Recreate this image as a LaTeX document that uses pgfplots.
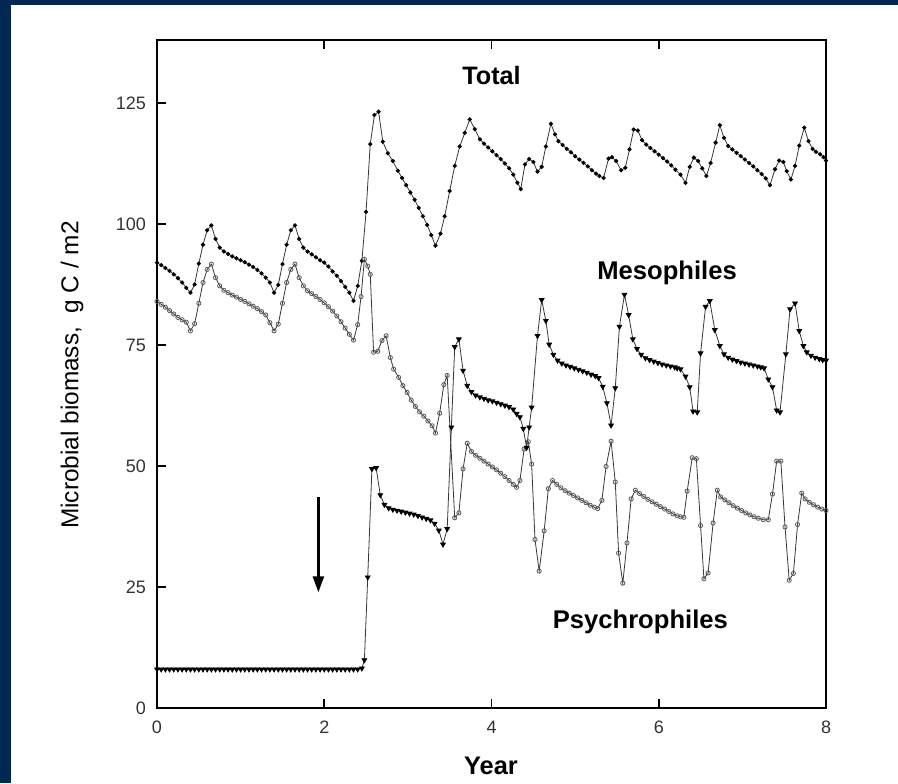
\documentclass[border=0pt]{standalone}
\usepackage{fontspec}
\setmainfont{Liberation Sans}
\usepackage{pgfplots}
\pgfplotsset{compat=1.18}
\usetikzlibrary{arrows.meta}
\definecolor{frame}{RGB}{0,40,82}
\definecolor{trace}{RGB}{55,55,55}

\begin{document}
\begin{tikzpicture}
% page frame: dark band on the left and top, white panel
\useasboundingbox (0,0) rectangle (449pt,391.5pt);
\fill[frame] (0,0) rectangle (449pt,391.5pt);
\fill[white] (5.5pt,0) rectangle (449pt,389pt);

\begin{axis}[
  at={(78.5pt,37.5pt)}, anchor=south west,
  scale only axis, width=334.5pt, height=334pt,
  xmin=0, xmax=8, ymin=0, ymax=138,
  xtick={0,2,4,6,8}, ytick={0,25,50,75,100,125},
  xtick pos=both, ytick pos=left,
  tick align=inside, major tick length=4.5pt,
  tick style={line width=0.8pt, black},
  axis line style={line width=1pt, black},
  /pgf/number format/assume math mode=true,
  tick label style={font=\fontsize{9}{10}\selectfont, text=black!80},
  yticklabel style={xshift=-2pt},
  xticklabel style={yshift=-3pt},
  clip=false,
]

% Total
\addplot[color=trace, line width=0.4pt, mark=*, mark size=0.85pt,
  mark options={fill=black, draw=black}] coordinates {
(0.00,92.0)(0.05,91.5)(0.10,90.9)(0.15,90.3)(0.20,89.6)(0.25,88.8)(0.30,87.9)(0.35,86.8)(0.40,85.8)(0.45,87.5)
(0.50,91.8)(0.55,95.7)(0.60,98.7)(0.65,99.7)(0.70,96.9)(0.75,95.1)(0.80,94.3)(0.85,93.8)(0.90,93.3)(0.95,92.9)
(1.00,92.5)(1.05,92.1)(1.10,91.6)(1.15,91.1)(1.20,90.5)(1.25,89.8)(1.30,88.9)(1.35,87.9)(1.40,85.8)(1.45,87.4)
(1.50,91.7)(1.55,95.7)(1.60,98.7)(1.65,99.7)(1.70,96.9)(1.75,95.1)(1.80,94.3)(1.85,93.7)(1.90,93.1)(1.95,92.5)
(2.00,92.0)(2.05,91.2)(2.10,90.2)(2.15,89.3)(2.20,88.2)(2.25,87.0)(2.30,85.8)(2.35,84.1)(2.40,87.2)(2.45,92.4)
(2.50,102.5)(2.55,116.5)(2.60,122.5)(2.65,123.2)(2.70,117.0)(2.76,114.6)(2.82,113.0)(2.88,111.0)(2.93,109.5)(2.98,108.0)
(3.03,106.5)(3.08,105.0)(3.13,103.3)(3.18,101.6)(3.23,99.8)(3.28,97.7)(3.33,95.5)(3.39,98.0)(3.44,101.6)(3.50,106.8)
(3.56,112.0)(3.62,116.0)(3.68,118.8)(3.74,121.6)(3.80,119.6)(3.86,117.5)(3.91,116.6)(3.96,115.8)(4.01,115.0)(4.06,114.2)
(4.11,113.4)(4.16,112.5)(4.21,111.5)(4.26,110.2)(4.31,108.5)(4.35,107.2)(4.40,112.3)(4.45,113.4)(4.50,112.8)(4.55,110.8)
(4.60,111.8)(4.65,116.0)(4.71,120.7)(4.76,118.5)(4.80,117.1)(4.85,116.3)(4.90,115.5)(4.95,114.8)(5.00,114.0)(5.05,113.3)
(5.10,112.6)(5.15,111.9)(5.20,111.1)(5.25,110.4)(5.29,109.9)(5.34,109.5)(5.40,113.5)(5.44,113.8)(5.49,113.0)(5.55,111.1)
(5.60,111.6)(5.65,115.4)(5.70,119.5)(5.75,119.3)(5.80,117.3)(5.85,116.4)(5.90,115.7)(5.95,115.0)(6.00,114.3)(6.05,113.6)
(6.10,112.9)(6.15,112.1)(6.20,111.2)(6.26,110.2)(6.32,108.5)(6.37,111.8)(6.42,113.7)(6.47,113.0)(6.52,111.5)(6.57,109.9)
(6.62,112.6)(6.68,116.8)(6.73,120.4)(6.78,117.8)(6.83,116.1)(6.88,115.4)(6.93,114.7)(6.98,114.0)(7.03,113.3)(7.08,112.6)
(7.13,111.9)(7.18,111.1)(7.23,110.3)(7.28,109.4)(7.33,108.0)(7.39,111.3)(7.44,113.1)(7.49,112.8)(7.53,110.9)(7.58,109.2)
(7.63,112.0)(7.68,116.2)(7.74,119.9)(7.79,117.1)(7.84,115.5)(7.88,114.9)(7.93,114.4)(7.97,113.8)(8.00,113.1)
};

% open-circle series
\addplot[color=trace, line width=0.4pt, mark=o, mark size=1.05pt,
  mark options={draw=black!65, fill=white, line width=0.4pt}] coordinates {
(0.00,84.0)(0.05,83.4)(0.10,82.8)(0.15,82.1)(0.20,81.4)(0.25,80.7)(0.30,80.2)(0.35,79.7)(0.40,77.9)(0.45,79.4)
(0.50,83.6)(0.55,87.9)(0.60,90.6)(0.65,91.7)(0.70,88.9)(0.75,87.2)(0.80,86.3)(0.85,85.8)(0.90,85.3)(0.95,84.9)
(1.00,84.4)(1.05,84.0)(1.10,83.5)(1.15,83.0)(1.20,82.5)(1.25,81.9)(1.30,81.2)(1.35,79.6)(1.40,77.9)(1.45,79.3)
(1.50,83.6)(1.55,87.9)(1.60,90.6)(1.65,91.7)(1.70,88.9)(1.75,87.2)(1.80,86.2)(1.85,85.6)(1.90,85.0)(1.95,84.4)
(2.00,83.7)(2.05,82.9)(2.10,82.0)(2.15,81.0)(2.20,79.8)(2.25,78.5)(2.30,77.2)(2.35,76.0)(2.40,79.2)(2.44,85.0)
(2.48,92.7)(2.52,91.3)(2.55,89.6)(2.59,73.5)(2.64,73.7)(2.69,75.9)(2.74,76.9)(2.79,72.4)(2.83,70.0)(2.89,68.3)
(2.94,66.6)(2.99,65.2)(3.04,63.6)(3.09,62.3)(3.14,61.2)(3.19,60.3)(3.24,59.3)(3.29,58.3)(3.33,56.8)(3.38,60.9)
(3.43,66.8)(3.47,68.7)(3.56,39.3)(3.61,40.3)(3.66,49.4)(3.71,54.7)(3.76,53.0)(3.81,52.2)(3.86,51.6)(3.91,51.0)
(3.96,50.4)(4.01,49.8)(4.06,49.2)(4.11,48.5)(4.16,47.8)(4.21,47.0)(4.26,46.2)(4.30,45.6)(4.34,47.0)(4.39,53.5)
(4.44,55.0)(4.48,50.4)(4.52,34.8)(4.57,28.3)(4.63,36.6)(4.68,45.3)(4.73,47.0)(4.78,46.2)(4.83,45.5)(4.88,44.9)
(4.93,44.4)(4.98,43.9)(5.03,43.4)(5.08,42.9)(5.13,42.4)(5.18,41.9)(5.23,41.5)(5.27,41.2)(5.32,42.9)(5.37,49.9)
(5.43,55.1)(5.48,46.7)(5.52,32.0)(5.57,25.8)(5.62,34.1)(5.67,43.2)(5.72,45.0)(5.77,44.3)(5.82,43.7)(5.87,43.1)
(5.92,42.6)(5.97,42.1)(6.02,41.6)(6.07,41.1)(6.12,40.6)(6.17,40.1)(6.22,39.7)(6.26,39.5)(6.30,39.4)(6.34,44.8)
(6.40,51.7)(6.45,51.5)(6.50,37.7)(6.54,26.7)(6.59,27.9)(6.65,38.2)(6.70,45.0)(6.74,43.6)(6.79,43.0)(6.84,42.4)
(6.89,41.8)(6.94,41.3)(6.99,40.8)(7.04,40.3)(7.09,39.9)(7.14,39.5)(7.19,39.2)(7.25,38.9)(7.31,38.9)(7.36,44.2)
(7.41,51.0)(7.46,51.0)(7.51,37.4)(7.56,26.4)(7.61,27.8)(7.66,37.9)(7.71,44.4)(7.75,43.2)(7.80,42.5)(7.85,42.0)
(7.90,41.5)(7.95,41.1)(8.00,40.8)
};

% filled-triangle series
\addplot[color=trace, line width=0.4pt, mark=triangle*, mark size=1.35pt,
  mark options={rotate=180, fill=black, draw=black}] coordinates {
(0.00,8.0)(0.05,8.0)(0.10,8.0)(0.15,8.0)(0.20,8.0)(0.25,8.0)(0.30,8.0)(0.35,8.0)(0.40,8.0)(0.45,8.0)
(0.50,8.0)(0.55,8.0)(0.60,8.0)(0.65,8.0)(0.70,8.0)(0.75,8.0)(0.80,8.0)(0.85,8.0)(0.90,8.0)(0.95,8.0)
(1.00,8.0)(1.05,8.0)(1.10,8.0)(1.15,8.0)(1.20,8.0)(1.25,8.0)(1.30,8.0)(1.35,8.0)(1.40,8.0)(1.45,8.0)
(1.50,8.0)(1.55,8.0)(1.60,8.0)(1.65,8.0)(1.70,8.0)(1.75,8.0)(1.80,8.0)(1.85,8.0)(1.90,8.0)(1.95,8.0)
(2.00,8.0)(2.05,8.0)(2.10,8.0)(2.15,8.0)(2.20,8.0)(2.25,8.0)(2.30,8.0)(2.35,8.0)(2.40,8.0)(2.45,8.2)
(2.48,9.9)(2.52,27.0)(2.57,49.4)(2.62,49.6)(2.67,44.0)(2.72,42.0)(2.77,41.3)(2.82,41.0)(2.87,40.8)(2.92,40.6)
(2.97,40.4)(3.02,40.2)(3.07,40.0)(3.12,39.7)(3.17,39.4)(3.22,39.1)(3.27,38.8)(3.32,38.1)(3.37,36.7)(3.42,33.8)
(3.47,37.0)(3.52,58.0)(3.56,74.6)(3.61,76.2)(3.66,69.7)(3.71,66.6)(3.76,65.3)(3.81,64.6)(3.86,64.2)(3.91,63.9)
(3.96,63.6)(4.01,63.4)(4.06,63.1)(4.11,62.8)(4.16,62.5)(4.21,62.2)(4.26,61.7)(4.30,60.8)(4.34,60.1)(4.38,57.7)
(4.42,53.8)(4.45,58.0)(4.48,62.1)(4.55,76.9)(4.60,84.3)(4.65,80.0)(4.69,75.1)(4.74,73.0)(4.79,71.8)(4.84,71.2)
(4.89,70.8)(4.94,70.5)(4.99,70.2)(5.04,69.9)(5.09,69.6)(5.14,69.3)(5.19,68.9)(5.24,68.6)(5.28,68.2)(5.33,66.4)
(5.38,63.0)(5.43,58.4)(5.48,66.1)(5.53,78.8)(5.59,85.4)(5.64,81.2)(5.69,76.2)(5.74,74.2)(5.79,73.0)(5.84,72.3)
(5.89,71.9)(5.94,71.6)(5.99,71.3)(6.04,71.0)(6.09,70.8)(6.14,70.6)(6.19,70.4)(6.22,70.2)(6.26,70.0)(6.32,68.5)
(6.37,66.3)(6.41,61.3)(6.46,61.1)(6.50,73.3)(6.56,82.9)(6.61,84.1)(6.67,78.1)(6.73,74.8)(6.78,73.1)(6.83,72.4)
(6.88,72.0)(6.93,71.7)(6.98,71.4)(7.03,71.2)(7.08,71.0)(7.13,70.8)(7.18,70.6)(7.22,70.4)(7.26,70.2)(7.31,67.9)
(7.36,66.3)(7.41,61.5)(7.45,61.1)(7.52,73.1)(7.57,82.4)(7.63,83.6)(7.68,77.9)(7.73,74.8)(7.77,73.5)(7.82,72.8)
(7.87,72.4)(7.92,72.1)(7.96,71.9)(8.00,71.8)
};

% curve names
\node[font=\fontsize{12.6}{14}\selectfont\bfseries] at (axis cs:4.0,130.6) {Total};
\node[font=\fontsize{12.8}{14}\selectfont\bfseries] at (axis cs:6.10,89.9) {Mesophiles};
\node[font=\fontsize{12.8}{14}\selectfont\bfseries] at (axis cs:5.78,17.7) {Psychrophiles};

% arrow marking the onset
\draw[line width=1.2pt, -{Triangle[length=8pt,width=5.5pt]}]
  (axis cs:1.93,43.5) -- (axis cs:1.93,23.9);
\end{axis}

% axis titles
\node[font=\fontsize{12.7}{14}\selectfont\bfseries] at (245.5pt,8.5pt) {Year};
\node[rotate=90, font=\fontsize{12.2}{14}\selectfont] at (36pt,204pt) {Microbial biomass,\ \ g C / m2};
\end{tikzpicture}
\end{document}
